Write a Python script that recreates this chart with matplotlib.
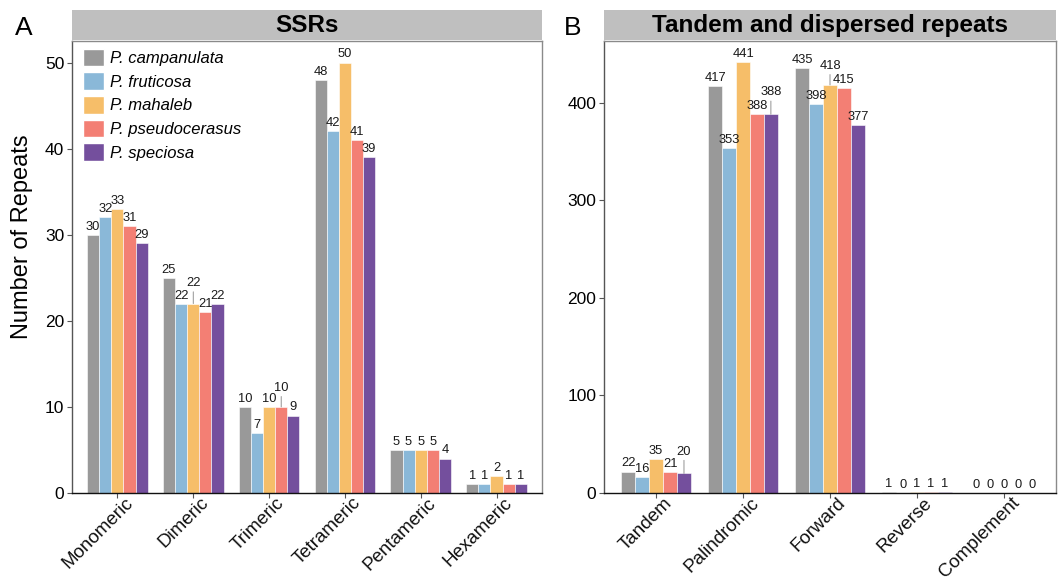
import numpy as np
import matplotlib.pyplot as plt
from matplotlib.patches import Patch

# species and colours
species = ["P. campanulata", "P. fruticosa", "P. mahaleb", "P. pseudocerasus", "P. speciosa"]
colors = ["#999999", "#8AB8D8", "#F6BE69", "#F37F74", "#744F9D"]

# panel A: SSRs
ssr_types = ["Monomeric", "Dimeric", "Trimeric", "Tetrameric", "Pentameric", "Hexameric"]
ssr_campanulata = [30, 25, 10, 48, 5, 1]
ssr_fruticosa = [32, 22, 7, 42, 5, 1]
ssr_mahaleb = [33, 22, 10, 50, 5, 2]
ssr_pseudocerasus = [31, 21, 10, 41, 5, 1]
ssr_speciosa = [29, 22, 9, 39, 4, 1]

# panel B: tandem and dispersed repeats
rep_types = ["Tandem", "Palindromic", "Forward", "Reverse", "Complement"]
rep_campanulata = [22, 417, 435, 1, 0]
rep_fruticosa = [16, 353, 398, 0, 0]
rep_mahaleb = [35, 441, 418, 1, 0]
rep_pseudocerasus = [21, 388, 415, 1, 0]
rep_speciosa = [20, 388, 377, 1, 0]

# labels pushed up (ggrepel-like), (category index, species index) -> extra points
nudge_a = {(1, 2): 9, (2, 3): 8}
nudge_b = {(0, 4): 10, (1, 4): 10, (2, 2): 8}

plt.rcParams['font.family'] = ['Liberation Sans', 'DejaVu Sans']

fig = plt.figure(figsize=(10.58, 5.80), dpi=100)


def draw_panel(rect, cats, series, ymax, yticks, title, nudges):
    ax = fig.add_axes(rect)
    n = len(series)
    width = 0.8 / n
    x = np.arange(1, len(cats) + 1)
    for j, vals in enumerate(series):
        xs = x - 0.4 + width * (j + 0.5)
        ax.bar(xs, vals, width=width, color=colors[j], edgecolor="white",
               linewidth=0.4, label=species[j])
        for i, v in enumerate(vals):
            extra = nudges.get((i, j), 0)
            if extra:
                ax.annotate(str(v), xy=(xs[i], v), xytext=(0, 1.5 + extra),
                            textcoords="offset points", ha="center", va="bottom",
                            fontsize=9.3, color="#1a1a1a",
                            arrowprops=dict(arrowstyle="-", color="#808080", lw=0.6,
                                            shrinkA=0, shrinkB=0))
            else:
                ax.annotate(str(v), xy=(xs[i], v), xytext=(0, 1.5),
                            textcoords="offset points", ha="center", va="bottom",
                            fontsize=9.3, color="#1a1a1a")
    ax.set_xlim(0.4, len(cats) + 0.6)
    ax.set_ylim(0, ymax)
    ax.set_yticks(yticks)
    ax.set_xticks(x)
    ax.set_xticklabels([])
    # rotated category labels, placed like ggplot's angle=45, hjust=1, vjust=1
    for xi, cat in zip(x, cats):
        ax.annotate(cat, xy=(xi, 0), xycoords=("data", "axes fraction"),
                    xytext=(5, -1), textcoords="offset points",
                    rotation=45, ha="right", va="top", rotation_mode="anchor",
                    fontsize=13.5, color="#111111")
    ax.tick_params(axis="y", labelsize=12.5, length=3.5, color="#555555", width=0.8, pad=2)
    ax.tick_params(axis="x", length=3.5, color="#555555", width=0.8)
    for side in ["top", "right"]:
        ax.spines[side].set_color("#8a8a8a")
        ax.spines[side].set_linewidth(1.0)
    ax.spines["left"].set_color("#555555")
    ax.spines["left"].set_linewidth(1.0)
    ax.spines["bottom"].set_color("#111111")
    ax.spines["bottom"].set_linewidth(1.0)

    # facet strip
    l, b, w, h = rect
    sax = fig.add_axes([l, 0.931, w, 0.052])
    sax.set_facecolor("#BFBFBF")
    sax.set_xticks([])
    sax.set_yticks([])
    for s in sax.spines.values():
        s.set_visible(False)
    sax.text(0.5, 0.47, title, ha="center", va="center", fontsize=17.5,
             fontweight="bold", transform=sax.transAxes)
    return ax


ax_a = draw_panel([0.068, 0.15, 0.4443, 0.7793], ssr_types,
                  [ssr_campanulata, ssr_fruticosa, ssr_mahaleb, ssr_pseudocerasus, ssr_speciosa],
                  52.5, [0, 10, 20, 30, 40, 50], "SSRs", nudge_a)
ax_a.set_ylabel("Number of Repeats", fontsize=17)
ax_a.yaxis.set_label_coords(-0.082, 0.566)

ax_b = draw_panel([0.5709, 0.15, 0.4272, 0.7793], rep_types,
                  [rep_campanulata, rep_fruticosa, rep_mahaleb, rep_pseudocerasus, rep_speciosa],
                  463, [0, 100, 200, 300, 400], "Tandem and dispersed repeats", nudge_b)

handles = [Patch(facecolor=c, edgecolor="white", label=s) for c, s in zip(colors, species)]
leg = ax_a.legend(handles=handles, loc="upper left", bbox_to_anchor=(0.008, 1.0),
                  frameon=False, fontsize=12, handlelength=1.26, handleheight=1.26,
                  labelspacing=0.36, handletextpad=0.35, borderaxespad=0.15,
                  borderpad=0.3)
for t in leg.get_texts():
    t.set_fontstyle("italic")

fig.text(0.0222, 0.952, "A", fontsize=19, ha="center", va="center")
fig.text(0.5416, 0.952, "B", fontsize=19, ha="center", va="center")

fig.savefig("out.png", dpi=100)
